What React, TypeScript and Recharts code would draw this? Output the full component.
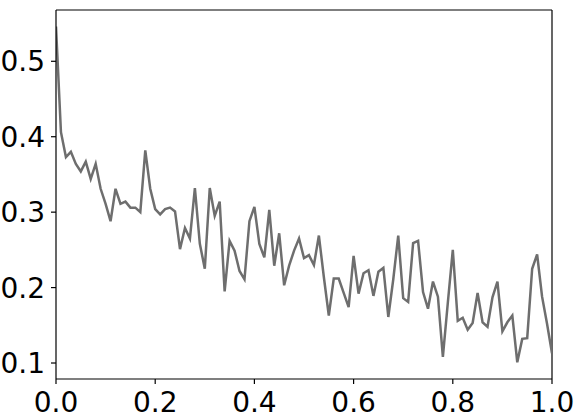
import { Line, LineChart, ReferenceLine, XAxis, YAxis } from 'recharts';

// 101 samples on [0, 1]
const xs = Array.from({ length: 101 }, (_, i) => i / 100);

const values = [
	0.546, 0.406, 0.373, 0.38, 0.364, 0.354, 0.367, 0.344, 0.364, 0.331,
	0.311, 0.288, 0.331, 0.311, 0.314, 0.306, 0.306, 0.3, 0.382, 0.331,
	0.304, 0.297, 0.304, 0.306, 0.301, 0.251, 0.279, 0.265, 0.332, 0.258,
	0.225, 0.332, 0.295, 0.314, 0.195, 0.262, 0.249, 0.222, 0.211, 0.288,
	0.307, 0.258, 0.24, 0.303, 0.229, 0.272, 0.203, 0.229, 0.249, 0.265,
	0.239, 0.243, 0.23, 0.269, 0.214, 0.163, 0.212, 0.212, 0.193, 0.174,
	0.242, 0.192, 0.219, 0.223, 0.189, 0.221, 0.226, 0.161, 0.211, 0.269,
	0.186, 0.181, 0.259, 0.262, 0.194, 0.172, 0.208, 0.188, 0.108, 0.18,
	0.25, 0.156, 0.16, 0.144, 0.153, 0.193, 0.154, 0.148, 0.187, 0.208,
	0.142, 0.154, 0.163, 0.101, 0.132, 0.133, 0.225, 0.244, 0.188, 0.152,
	0.113,
];

const xTicks = [0, 0.2, 0.4, 0.6, 0.8, 1.0];
const yTicks = [0.1, 0.2, 0.3, 0.4, 0.5];
const yDomain = [0.0788, 0.568];

const data = xs.map((x, i) => ({ x, y: values[i] }));

const tickStyle = { fontFamily: 'DejaVu Sans', fontSize: 28, fill: '#000' };

export default function App() {
	return (
		<div style={{ position: 'absolute', left: 0, top: 0 }}>
			<LineChart
				width={583}
				height={415}
				data={data}
				margin={{ top: 10, right: 31, left: 0, bottom: 0 }}
			>
				<XAxis
					dataKey="x"
					type="number"
					domain={[0, 1]}
					ticks={xTicks}
					tickFormatter={(v: number) => v.toFixed(1)}
					height={36}
					tickSize={5}
					tickMargin={8}
					tick={tickStyle}
					axisLine={{ stroke: '#000', strokeWidth: 1.2 }}
					tickLine={{ stroke: '#000', strokeWidth: 1.2 }}
					allowDataOverflow
				/>
				<YAxis
					type="number"
					domain={yDomain}
					ticks={yTicks}
					tickFormatter={(v: number) => v.toFixed(1)}
					width={56}
					tickSize={5}
					tickMargin={6}
					tick={tickStyle}
					axisLine={{ stroke: '#000', strokeWidth: 1.2 }}
					tickLine={{ stroke: '#000', strokeWidth: 1.2 }}
					allowDataOverflow
				/>
				{/* top and right spines */}
				<ReferenceLine y={yDomain[1]} stroke="#000" strokeWidth={1.2} />
				<ReferenceLine x={1} stroke="#000" strokeWidth={1.2} />
				<Line
					dataKey="y"
					stroke="#6e6e6e"
					strokeWidth={2.5}
					dot={false}
					type="linear"
					isAnimationActive={false}
				/>
			</LineChart>
		</div>
	);
}
